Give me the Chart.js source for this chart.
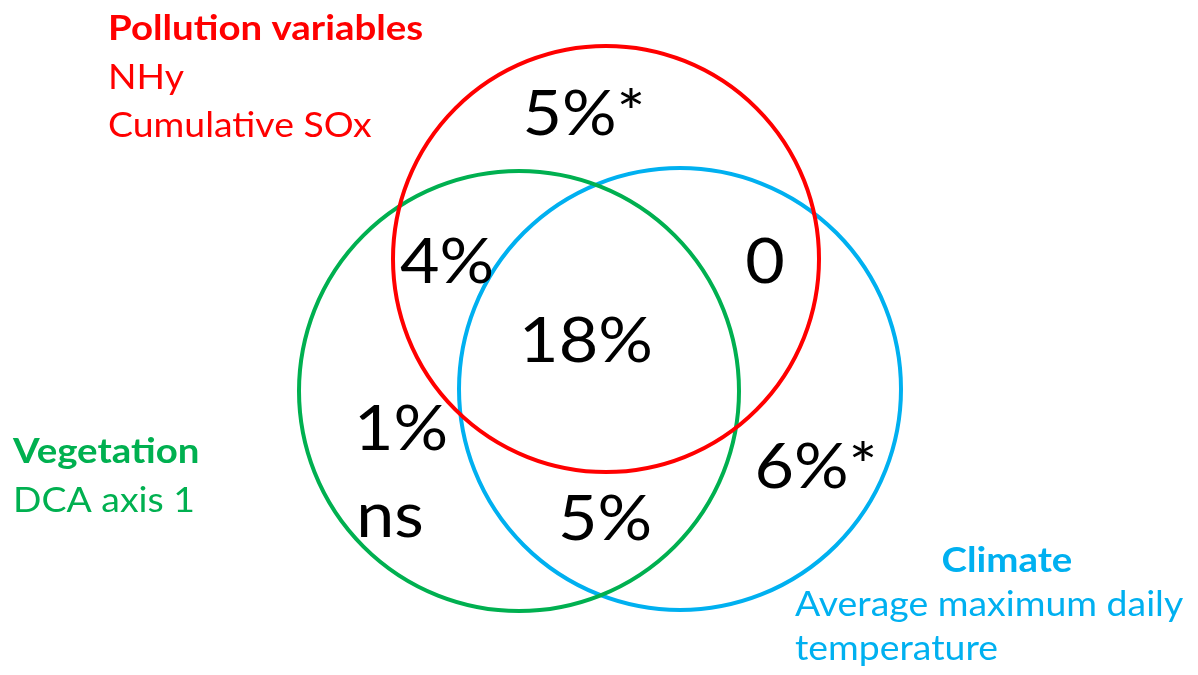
<!DOCTYPE html>
<html lang="en">
<head>
<meta charset="utf-8">
<script src="https://cdn.jsdelivr.net/npm/chart.js"></script>
<style>
    html, body { margin: 0; padding: 0; background: #fff; }
    #wrap { width: 1198px; height: 675px; position: relative; }
</style>
</head>
<body>
<div id="wrap"><canvas id="vennChart"></canvas></div>

<script>
    // Sets (circles) of the Venn diagram, in plot units (x right, y down)
    const setNames = ['Pollution variables', 'Vegetation', 'Climate'];
    const setX = [606, 519, 680];
    const setY = [259, 391, 389];
    const setR = [213, 220, 221];

    // Variance explained in each region
    const regionText = ['5%*', '4%', '0', '18%', '1%', 'ns', '5%', '6%*'];
    const regionX = [584, 447, 765, 586, 401, 390, 605, 816];
    const regionY = [135, 283, 283, 362, 450, 537, 540, 488];

    // Set descriptions
    const setVars = [['NHy', 'Cumulative SOx'], ['DCA axis 1'], ['Average maximum daily', 'temperature']];

    const colors = ['#FF0000', '#00B050', '#00B0F0'];

    // where each set's legend text sits: [x, baseline of title, align, line step]
    const legendPos = [
        [108, 40, 'left', 48.5],
        [13, 463, 'left', 49],
        [1007, 572, 'center', 44]
    ];
    const legendVarX = [108, 13, 795];

    // the original text is set in a wide face, so stretch Lato a bit sideways
    function wideText(ctx, text, x, y, sx) {
        ctx.save();
        ctx.translate(x, y);
        ctx.scale(sx, 1);
        ctx.fillText(text, 0, 0);
        ctx.restore();
    }

    const textPlugin = {
        id: 'vennText',
        afterDatasetsDraw(chart) {
            const ctx = chart.ctx;
            const xs = chart.scales.x, ys = chart.scales.y;
            ctx.save();
            ctx.textBaseline = 'alphabetic';

            // region numbers
            ctx.fillStyle = '#000';
            ctx.font = '62px Lato';
            ctx.textAlign = 'center';
            regionText.forEach((t, i) => {
                wideText(ctx, t, xs.getPixelForValue(regionX[i]), ys.getPixelForValue(regionY[i]), 1.1);
            });

            // set titles and variables
            setNames.forEach((name, i) => {
                const p = legendPos[i];
                ctx.fillStyle = colors[i];
                ctx.font = 'bold 34px Lato';
                ctx.textAlign = p[2];
                wideText(ctx, name, xs.getPixelForValue(p[0]), ys.getPixelForValue(p[1]), 1.13);
                ctx.font = '34px Lato';
                ctx.textAlign = 'left';
                setVars[i].forEach((v, j) => {
                    wideText(ctx, v, xs.getPixelForValue(legendVarX[i]), ys.getPixelForValue(p[1] + p[3] * (j + 1)), 1.1);
                });
            });
            ctx.restore();
        }
    };

    const ctx = document.getElementById('vennChart').getContext('2d');
    new Chart(ctx, {
        type: 'bubble',
        data: {
            datasets: setNames.map((name, i) => ({
                label: name,
                data: [{ x: setX[i], y: setY[i], r: setR[i] }],
                backgroundColor: 'rgba(0,0,0,0)',
                borderColor: colors[i],
                borderWidth: 4,
                hoverBorderWidth: 4,
                clip: false
            }))
        },
        options: {
            responsive: true,
            maintainAspectRatio: false,
            animation: false,
            events: [],
            layout: { padding: 0, autoPadding: false },
            scales: {
                x: { type: 'linear', min: 0, max: 1198, display: false },
                y: { type: 'linear', min: 0, max: 675, reverse: true, display: false }
            },
            plugins: {
                legend: { display: false },
                tooltip: { enabled: false }
            }
        },
        plugins: [textPlugin]
    });
</script>
</body>
</html>
